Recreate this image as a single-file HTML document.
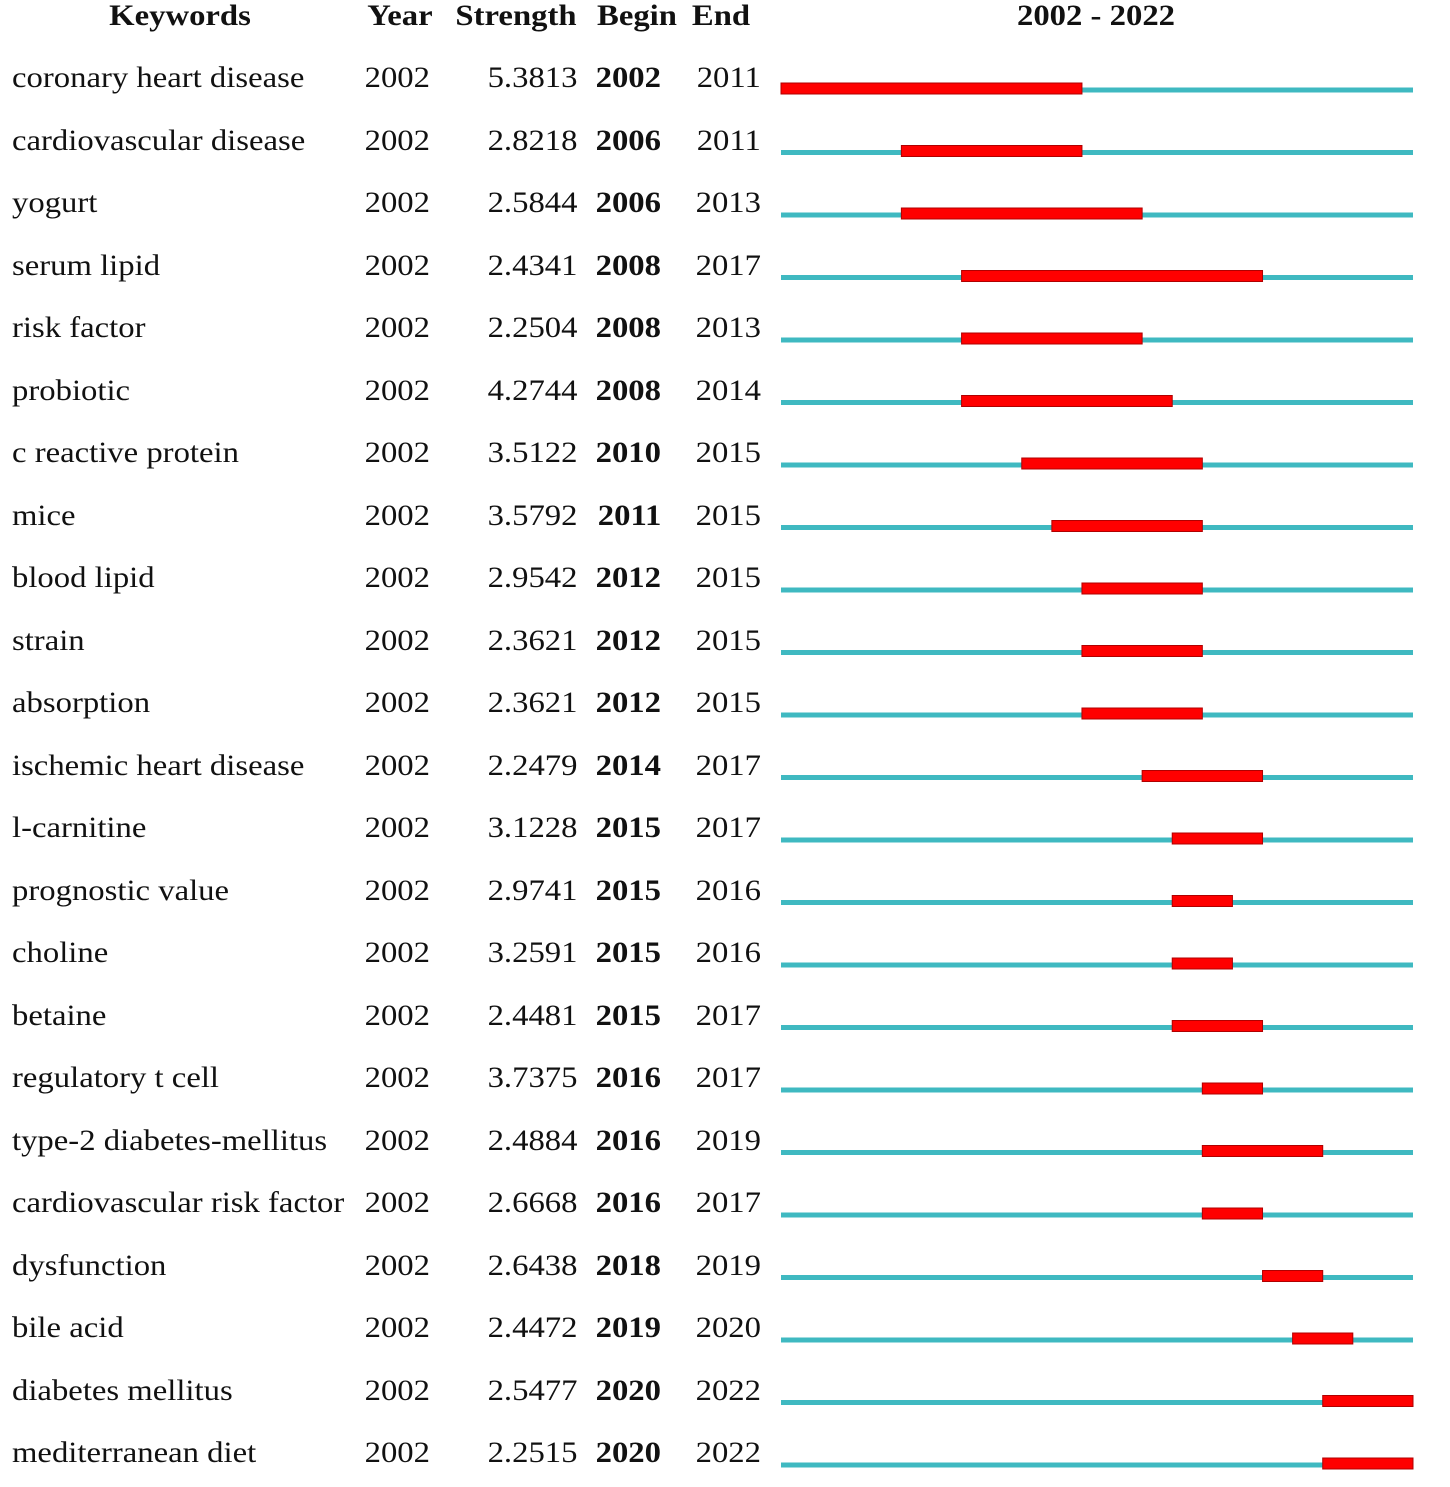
<!DOCTYPE html>
<html><head><meta charset="utf-8"><style>
body{margin:0;background:#fff;width:1450px;height:1487px;overflow:hidden;position:relative;font-family:"Liberation Serif",serif;color:#111}
.t{position:absolute;font-size:30px;line-height:32px;white-space:nowrap}
.h{font-weight:bold}
</style></head><body>
<div id="root"></div>
<script>
const keywords=["coronary heart disease","cardiovascular disease","yogurt","serum lipid","risk factor","probiotic","c reactive protein","mice","blood lipid","strain","absorption","ischemic heart disease","l-carnitine","prognostic value","choline","betaine","regulatory t cell","type-2 diabetes-mellitus","cardiovascular risk factor","dysfunction","bile acid","diabetes mellitus","mediterranean diet"];
const years=[2002,2002,2002,2002,2002,2002,2002,2002,2002,2002,2002,2002,2002,2002,2002,2002,2002,2002,2002,2002,2002,2002,2002];
const strengths=["5.3813","2.8218","2.5844","2.4341","2.2504","4.2744","3.5122","3.5792","2.9542","2.3621","2.3621","2.2479","3.1228","2.9741","3.2591","2.4481","3.7375","2.4884","2.6668","2.6438","2.4472","2.5477","2.2515"];
const begins=[2002,2006,2006,2008,2008,2008,2010,2011,2012,2012,2012,2014,2015,2015,2015,2015,2016,2016,2016,2018,2019,2020,2020];
const ends=[2011,2011,2013,2017,2013,2014,2015,2015,2015,2015,2015,2017,2017,2016,2016,2017,2017,2019,2017,2019,2020,2022,2022];
const startYear=2002,endYear=2022;
const root=document.getElementById('root');
const SX=1.09;
function txt(s,x,y,align,cls,name){
  const d=document.createElement('div');
  d.className='t '+(cls||'');
  d.textContent=s;
  d.style.top=(y-15)+'px';
  if(align==='r'){d.style.right=(1450-x)+'px';d.style.transformOrigin='right center';}
  else if(align==='c'){d.style.left=(x-200)+'px';d.style.width='400px';d.style.textAlign='center';d.style.transformOrigin='center center';}
  else {d.style.left=x+'px';d.style.transformOrigin='left center';}
  d.style.transform='scaleX('+SX+')';
  
  
  root.appendChild(d);
}
txt("Keywords",180,15,'c','h','header-keywords');
txt("Year",400,15,'c','h','header-year');
txt("Strength",516,15,'c','h','header-strength');
txt("Begin",637,15,'c','h','header-begin');
txt("End",721,15,'c','h','header-end');
txt("2002 - 2022",1096,15,'c','h','header-range');
const x0=781,x1=1413,yw=(x1-x0)/(endYear-startYear+1);
const xs=y=>x0+(y-startYear)*yw;
const svg=document.createElementNS('http://www.w3.org/2000/svg','svg');
svg.setAttribute('width',1450);svg.setAttribute('height',1487);
svg.style.position='absolute';svg.style.left='0';svg.style.top='0';


root.appendChild(svg);
keywords.forEach((k,i)=>{
  const cy=77+i*62.5;
  txt(k,12,cy,'l','','keyword-label');
  txt(String(years[i]),430,cy,'r','','year-value');
  txt(strengths[i],577,cy,'r','','strength-value');
  txt(String(begins[i]),661,cy,'r','h','begin-value');
  txt(String(ends[i]),761,cy,'r','','end-value');
  const by=cy+13;
  const l=document.createElementNS(svg.namespaceURI,'rect');
  l.setAttribute('x',x0);l.setAttribute('y',by-2.5);l.setAttribute('width',x1-x0);l.setAttribute('height',5);l.setAttribute('fill','#3fb9c1');
  
  
  svg.appendChild(l);
  const r=document.createElementNS(svg.namespaceURI,'rect');
  r.setAttribute('x',xs(begins[i]));r.setAttribute('y',by-7);r.setAttribute('width',xs(ends[i]+1)-xs(begins[i]));r.setAttribute('height',11);
  r.setAttribute('fill','#ff0000');r.setAttribute('stroke','#b00000');r.setAttribute('stroke-width','1');
  
  
  svg.appendChild(r);
});
</script>
</body></html>
